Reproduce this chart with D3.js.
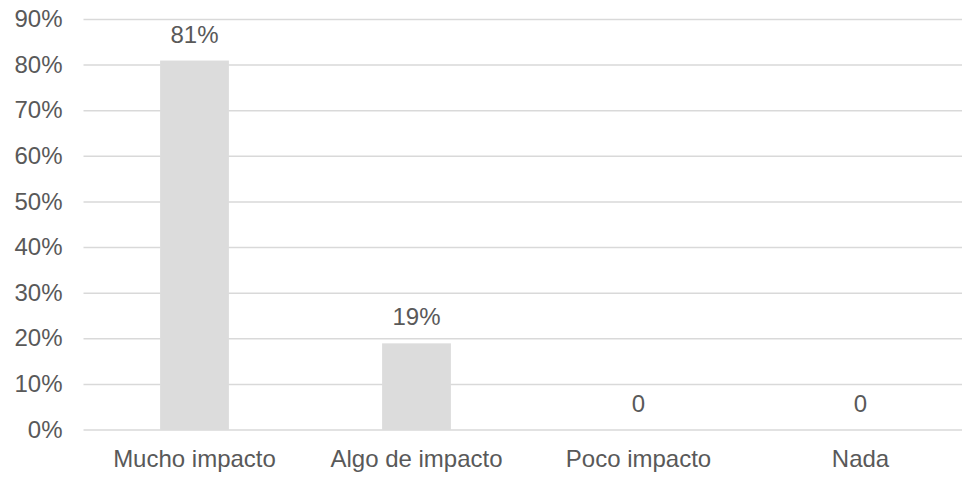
<!DOCTYPE html>
<html>
<head>
<meta charset="utf-8">
<script src="https://cdn.jsdelivr.net/npm/d3@7"></script>
<style>
  body { margin: 0; background: #fff; }
  svg text { font-family: "Liberation Sans", Arial, sans-serif; fill: #595959; }
</style>
</head>
<body>
<div id="wrapper"></div>
<script>
// Data
const categories = ["Mucho impacto", "Algo de impacto", "Poco impacto", "Nada"];
const values = [0.81, 0.19, 0, 0];
const valueLabels = ["81%", "19%", "0", "0"];
const yTicks = [0, 0.1, 0.2, 0.3, 0.4, 0.5, 0.6, 0.7, 0.8, 0.9];

const dimensions = {
  width: 962,
  height: 477,
  margins: { top: 19.5, right: -9.5, bottom: 47, left: 83.5 },
};
dimensions.boundedWidth =
  dimensions.width - dimensions.margins.left - dimensions.margins.right;
dimensions.boundedHeight =
  dimensions.height - dimensions.margins.top - dimensions.margins.bottom;

const wrapper = d3
  .select("#wrapper")
  .append("svg")
  .attr("width", dimensions.width)
  .attr("height", dimensions.height);

const bounds = wrapper
  .append("g")
  .attr("transform", `translate(${dimensions.margins.left},${dimensions.margins.top})`);

// Scales
const xScale = d3
  .scaleBand()
  .domain(categories)
  .range([0, dimensions.boundedWidth])
  .paddingInner(0.69)
  .paddingOuter(0.345);

const yScale = d3
  .scaleLinear()
  .domain([0, 0.9])
  .range([dimensions.boundedHeight, 0]);

// Gridlines
bounds
  .append("g")
  .selectAll("line")
  .data(yTicks)
  .join("line")
  .attr("x1", 0)
  .attr("x2", dimensions.boundedWidth)
  .attr("y1", (d) => yScale(d))
  .attr("y2", (d) => yScale(d))
  .attr("stroke", "#d9d9d9")
  .attr("stroke-width", 1.5);

// Y axis labels
const yAxis = bounds
  .append("g")
  .call(
    d3.axisLeft(yScale).tickValues(yTicks).tickFormat(d3.format(".0%")).tickSize(0).tickPadding(21)
  );
yAxis.select(".domain").remove();
yAxis.selectAll("text").style("font-size", "24px").attr("dy", "0.3em");

// Bars
bounds
  .selectAll("rect.bar")
  .data(values)
  .join("rect")
  .attr("class", "bar")
  .attr("x", (d, i) => xScale(categories[i]))
  .attr("width", xScale.bandwidth())
  .attr("y", (d) => yScale(d))
  .attr("height", (d) => dimensions.boundedHeight - yScale(d))
  .attr("fill", "#dcdcdc");

// Value labels
bounds
  .selectAll("text.value")
  .data(values)
  .join("text")
  .attr("class", "value")
  .attr("x", (d, i) => xScale(categories[i]) + xScale.bandwidth() / 2)
  .attr("y", (d) => yScale(d) - 18)
  .attr("text-anchor", "middle")
  .style("font-size", "24px")
  .text((d, i) => valueLabels[i]);

// X axis labels
const xAxis = bounds
  .append("g")
  .attr("transform", `translate(0,${dimensions.boundedHeight})`)
  .call(d3.axisBottom(xScale).tickSize(0).tickPadding(20));
xAxis.select(".domain").remove();
xAxis.selectAll("text").style("font-size", "24px");
</script>
</body>
</html>
